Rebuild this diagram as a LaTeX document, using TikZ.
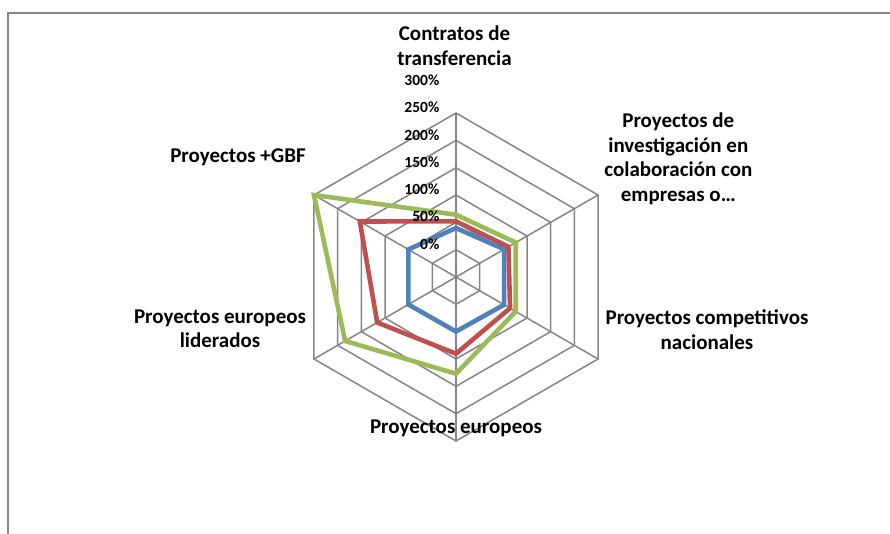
\documentclass[tikz,border=0pt]{standalone}
\usepackage{fontspec}
\setmainfont{Carlito}
\definecolor{gridgray}{HTML}{868686}
\definecolor{sblue}{HTML}{4F81BD}
\definecolor{sred}{HTML}{C0504D}
\definecolor{sgreen}{HTML}{9BBB59}
\tikzset{
  gridline/.style={draw=gridgray, line width=1.5pt},
  framel/.style={draw=gridgray, line width=2pt},
  series/.style={line width=4.6pt, line join=miter},
  catlabel/.style={inner sep=0pt, align=center, font=\fontsize{21}{24.7}\selectfont\bfseries},
  ticklabel/.style={inner sep=0pt, anchor=east, font=\fontsize{15.5}{18}\selectfont\bfseries},
}
\begin{document}
\begin{tikzpicture}[x=1pt,y=-1pt]
\useasboundingbox (0,0) rectangle (890,533);
\fill[white] (0,0) rectangle (890,533);
\draw[framel] (8,540) -- (8,13) -- (895,13);
\coordinate (O) at (456,277);
\begin{scope}[shift={(O)}]
  \foreach \k in {1,...,6} {
    \draw[gridline] (-90:\k*27.33) -- (-30:\k*27.33) -- (30:\k*27.33) -- (90:\k*27.33) -- (150:\k*27.33) -- (210:\k*27.33) -- cycle;
  }
  \foreach \a in {-90,-30,30,90,150,210} {
    \draw[gridline] (0,0) -- (\a:164);
  }
  \draw[series, sblue] (-90:49) -- (-30:55.5) -- (30:55.5) -- (90:54.5) -- (150:55) -- (210:55) -- cycle;
  \draw[series, sred] (-90:55.7) -- (-30:60.5) -- (30:62.4) -- (90:76.7) -- (150:91) -- (210:111) -- cycle;
  \draw[series, sgreen] (-90:62.3) -- (-30:69) -- (30:69) -- (90:96.7) -- (150:128) -- (210:164) -- cycle;
\end{scope}
\node[ticklabel] (t0) at (439.5,244) {0\%};
\node[ticklabel] (t50) at (439.5,216.7) {50\%};
\node[ticklabel] (t100) at (439.5,189.4) {100\%};
\node[ticklabel] (t150) at (439.5,162.1) {150\%};
\node[ticklabel] (t200) at (439.5,134.8) {200\%};
\node[ticklabel] (t250) at (439.5,107.5) {250\%};
\node[ticklabel] (t300) at (439.5,80.5) {300\%};
\node[catlabel] (c1) at (454.5,45.8) {Contratos de\\transferencia};
\node[catlabel] (c2) at (678.3,158.8) {Proyectos de\\investigación en\\colaboración con\\empresas o…};
\node[catlabel] (c3) at (707,329.5) {Proyectos competitivos\\nacionales};
\node[catlabel] (c4) at (456,428) {Proyectos europeos};
\node[catlabel] (c5) at (220,328.8) {Proyectos europeos\\liderados};
\node[catlabel] (c6) at (238,157.3) {Proyectos +GBF};
\end{tikzpicture}
\end{document}
